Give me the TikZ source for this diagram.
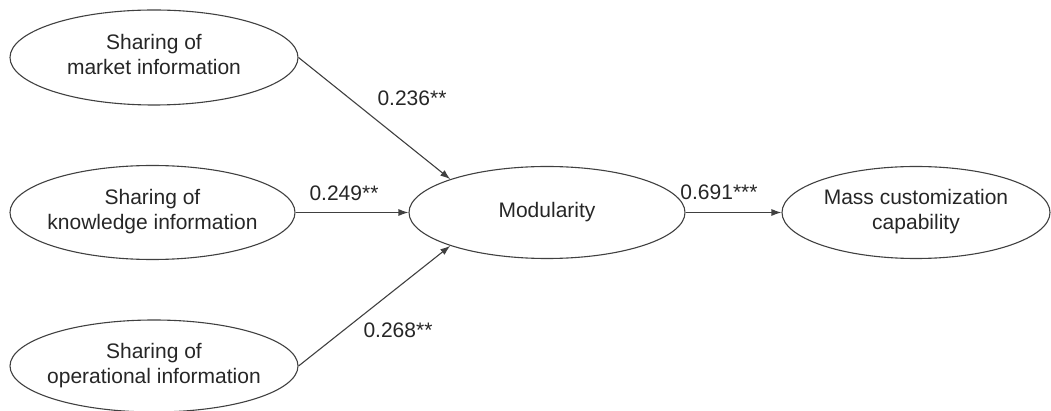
\documentclass[tikz,border=0pt]{standalone}
\usepackage{fontspec}
\setmainfont{Liberation Sans}
\usetikzlibrary{shapes.geometric,arrows.meta}
\newcommand\twoline[2]{\makebox[0pt]{\begin{tabular}{@{}c@{}}#1\\#2\end{tabular}}}
\begin{document}
\begin{tikzpicture}[x=1pt,y=-1pt,
  var/.style={ellipse, draw=black!75, line width=1.1pt, inner sep=0pt,
    font=\fontsize{21}{25}\selectfont, text=black!85},
  lbl/.style={font=\fontsize{21}{25}\selectfont, inner sep=0pt, text=black!85},
  conn/.style={draw=black!75, line width=1.1pt, -{Latex[length=10pt,width=7pt]}}]
\useasboundingbox (0,0) rectangle (1051,411);
\node[var, minimum width=288pt, minimum height=95pt] (mkt) at (154,57.5)
  {\twoline{Sharing of}{market information}};
\node[var, minimum width=285pt, minimum height=94pt] (know) at (152.5,212.5)
  {\twoline{Sharing of}{knowledge information}};
\node[var, minimum width=288pt, minimum height=92pt] (oper) at (154,366)
  {\twoline{Sharing of}{operational information}};
\node[var, minimum width=276pt, minimum height=92pt] (mod) at (547,212.5)
  {Modularity};
\node[var, minimum width=268pt, minimum height=92pt] (mass) at (916,212.5)
  {\twoline{Mass customization}{capability}};
\draw[conn] (mkt.east) -- (mod.161);
\draw[conn] (know.east) -- (mod.west);
\draw[conn] (oper.east) -- (mod.199);
\draw[conn] (mod.east) -- (mass.west);
\node[lbl] (l1) at (412,98) {0.236**};
\node[lbl] (l2) at (344,193) {0.249**};
\node[lbl] (l3) at (398,330) {0.268**};
\node[lbl] (l4) at (719,192) {0.691***};
\end{tikzpicture}
\end{document}
